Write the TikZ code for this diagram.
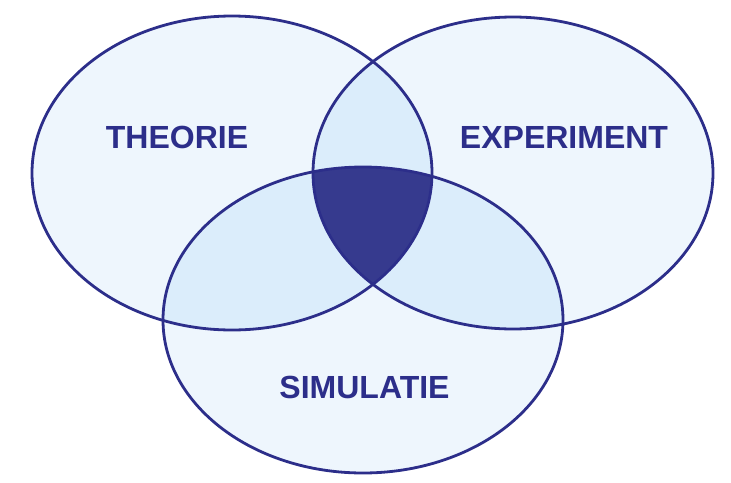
\documentclass[tikz,border=0pt]{standalone}
\usepackage{fontspec}
\setmainfont{Liberation Sans}
\definecolor{navy}{RGB}{44,46,138}
\definecolor{centerfill}{RGB}{54,58,142}
\definecolor{onefill}{RGB}{238,246,253}
\definecolor{twofill}{RGB}{219,237,251}
\tikzset{
  label/.style={font=\fontsize{32}{36}\selectfont\bfseries, text=navy, inner sep=0pt},
  ring/.style={draw=navy, line width=2.8pt},
}
\begin{document}
\begin{tikzpicture}[x=1pt,y=-1pt]
\useasboundingbox (0,0) rectangle (731,482);
\def\EL{(232,173) ellipse [x radius=200, y radius=157]}
\def\ER{(513,173) ellipse [x radius=200, y radius=156]}
\def\EB{(363,320) ellipse [x radius=200, y radius=153]}
% single fills
\fill[onefill] \EL;
\fill[onefill] \ER;
\fill[onefill] \EB;
% pairwise fills
\begin{scope}\clip \EL; \fill[twofill] \ER; \end{scope}
\begin{scope}\clip \EL; \fill[twofill] \EB; \end{scope}
\begin{scope}\clip \ER; \fill[twofill] \EB; \end{scope}
% triple fill
\begin{scope}\clip \EL; \clip \ER; \fill[centerfill] \EB; \end{scope}
% outlines
\draw[ring] \EL;
\draw[ring] \ER;
\draw[ring] \EB;
% labels
\node[label] (theorie) at (177,137) {THEORIE};
\node[label] (experiment) at (564,137) {EXPERIMENT};
\node[label] (simulatie) at (364.5,387) {SIMULATIE};
\end{tikzpicture}
\end{document}
